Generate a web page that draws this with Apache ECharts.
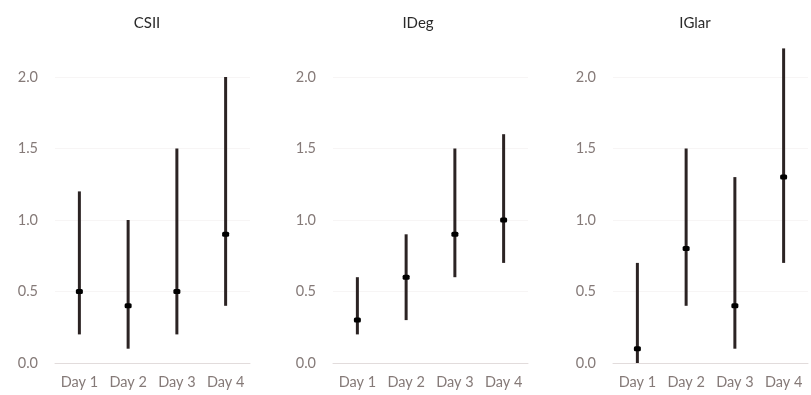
<!DOCTYPE html>
<html>
<head>
<meta charset="utf-8">
<script src="https://cdn.jsdelivr.net/npm/echarts@6/dist/echarts.min.js"></script>
<style>
html,body{margin:0;padding:0;background:#fff;}
#chart{width:811px;height:395px;}
</style>
</head>
<body>
<div id="chart"></div>
<script>
var categories = ['Day 1', 'Day 2', 'Day 3', 'Day 4'];
var panelTitles = ['CSII', 'IDeg', 'IGlar'];

var csiiMid  = [0.5, 0.4, 0.5, 0.9];
var csiiLow  = [0.2, 0.1, 0.2, 0.4];
var csiiHigh = [1.2, 1.0, 1.5, 2.0];

var idegMid  = [0.3, 0.6, 0.9, 1.0];
var idegLow  = [0.2, 0.3, 0.6, 0.7];
var idegHigh = [0.6, 0.9, 1.5, 1.6];

var iglarMid  = [0.1, 0.8, 0.4, 1.3];
var iglarLow  = [0.0, 0.4, 0.1, 0.7];
var iglarHigh = [0.7, 1.5, 1.3, 2.2];

var panels = [
  {mid: csiiMid, low: csiiLow, high: csiiHigh},
  {mid: idegMid, low: idegLow, high: idegHigh},
  {mid: iglarMid, low: iglarLow, high: iglarHigh}
];

var gridLefts = [55, 333, 613];
var gridWidth = 195;
var titleCenters = [142, 413, 690];

var labelColor = '#857a78';
var font = 'Lato, "Open Sans", sans-serif';

var grids = [], xAxes = [], yAxes = [], series = [], titles = [];
panels.forEach(function (p, i) {
  grids.push({left: gridLefts[i], width: gridWidth, top: 48.4, height: 314.6, containLabel: false});
  titles.push({
    text: panelTitles[i], left: titleCenters[i], top: 11, textAlign: 'center',
    textStyle: {fontFamily: font, fontSize: 15, fontWeight: 'normal', color: '#2a2a2a'}
  });
  xAxes.push({
    type: 'category', gridIndex: i, data: categories,
    axisLine: {lineStyle: {color: '#e2dcdc', width: 1}},
    axisTick: {show: false},
    axisLabel: {color: labelColor, fontFamily: font, fontSize: 14.5, margin: 12}
  });
  yAxes.push({
    type: 'value', gridIndex: i, min: 0, max: 2.2, interval: 0.5,
    axisLine: {show: false}, axisTick: {show: false},
    axisLabel: {color: labelColor, fontFamily: font, fontSize: 14.5, margin: 17,
      showMaxLabel: false,
      formatter: function (v) { return v.toFixed(1); }},
    splitLine: {show: true, showMaxLine: false, showMinLine: false, lineStyle: {color: '#f7f5f5', width: 1}}
  });
  var data = categories.map(function (c, k) { return [k, p.low[k], p.high[k], p.mid[k]]; });
  series.push({
    type: 'custom', xAxisIndex: i, yAxisIndex: i, data: data,
    encode: {x: 0, y: [1, 2, 3]},
    renderItem: function (params, api) {
      var x = api.value(0);
      var lo = api.coord([x, api.value(1)]);
      var hi = api.coord([x, api.value(2)]);
      var md = api.coord([x, api.value(3)]);
      return {
        type: 'group',
        children: [
          {type: 'line', shape: {x1: lo[0], y1: lo[1], x2: hi[0], y2: hi[1]},
           style: {stroke: '#2b2323', lineWidth: 3}},
          {type: 'rect', shape: {x: md[0] - 3.5, y: md[1] - 2.5, width: 7, height: 5, r: 1.5},
           style: {fill: '#000'}}
        ]
      };
    }
  });
});

var chart = echarts.init(document.getElementById('chart'));
chart.setOption({
  animation: false,
  backgroundColor: '#fff',
  title: titles,
  grid: grids,
  xAxis: xAxes,
  yAxis: yAxes,
  series: series
});
</script>
</body>
</html>
